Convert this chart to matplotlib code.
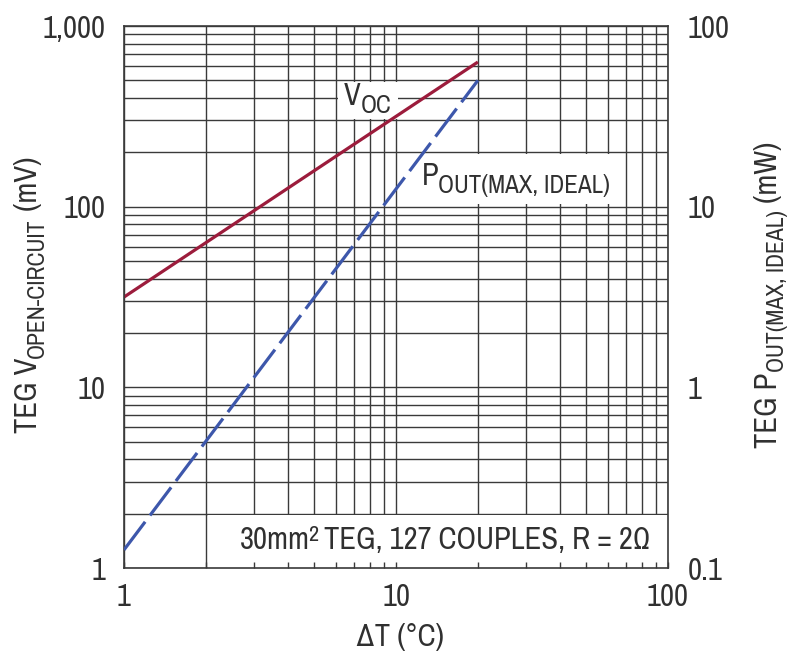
import matplotlib
matplotlib.use("Agg")
import matplotlib.pyplot as plt
from matplotlib.ticker import FixedLocator, FixedFormatter, LogLocator, NullFormatter
from matplotlib.patches import Rectangle

# ---- data -------------------------------------------------------------
delta_t = [1, 20]                 # temperature difference (°C)
v_oc_mv = [31.6, 632]             # open-circuit voltage (mV), left axis
p_out_mw = [0.126, 50]            # ideal max output power (mW), right axis

x_ticks = [1, 10, 100]
x_tick_labels = ["1", "10", "100"]
left_ticks = [1, 10, 100, 1000]
left_tick_labels = ["1", "10", "100", "1,000"]
right_ticks = [0.1, 1, 10, 100]
right_tick_labels = ["0.1", "1", "10", "100"]

# ---- style ------------------------------------------------------------
plt.rcParams["font.family"] = ["Archivo Narrow", "Roboto Condensed", "DejaVu Sans"]

GRID = "#3a3a3a"
TEXT = "#303030"
RED = "#9c1c3c"
BLUE = "#3d57ab"
TICK_FS = 22
MAIN_FS = 22      # in-plot labels
SUB_FS = 18       # their subscripts
AX_FS = 22        # axis titles
AX_SUB_FS = 17

W, H = 787, 655
fig = plt.figure(figsize=(W / 100, H / 100), dpi=100)
ax = fig.add_axes([124 / W, 87 / H, 544 / W, 542 / H])
ax.set_xscale("log")
ax.set_yscale("log")
ax.set_xlim(1, 100)
ax.set_ylim(1, 1000)

ax.xaxis.set_major_locator(FixedLocator(x_ticks))
ax.xaxis.set_major_formatter(FixedFormatter(x_tick_labels))
ax.xaxis.set_minor_locator(LogLocator(base=10, subs=range(2, 10)))
ax.xaxis.set_minor_formatter(NullFormatter())
ax.yaxis.set_major_locator(FixedLocator(left_ticks))
ax.yaxis.set_major_formatter(FixedFormatter(left_tick_labels))
ax.yaxis.set_minor_locator(LogLocator(base=10, subs=range(2, 10)))
ax.yaxis.set_minor_formatter(NullFormatter())

ax.set_axisbelow(True)
ax.grid(which="both", color=GRID, lw=1.0)
ax.tick_params(which="both", length=0, labelsize=TICK_FS, labelcolor=TEXT)
ax.tick_params(axis="x", pad=11)
ax.tick_params(axis="y", pad=13)
for s in ax.spines.values():
    s.set_color(GRID)
    s.set_linewidth(1.2)

# white label panels over the grid
panel = dict(facecolor="white", edgecolor="none", zorder=1)
ax.add_patch(Rectangle((2.03, 1.0), 100 - 2.03, 1.97 - 1.0, **panel))
ax.add_patch(Rectangle((6.1, 305), 10.15 - 6.1, 492 - 305, **panel))
ax.add_patch(Rectangle((11.3, 103), 64 - 11.3, 195 - 103, **panel))

ax.plot(delta_t, v_oc_mv, color=RED, lw=2.3, solid_capstyle="butt", zorder=2)

# right axis: output power
ax2 = ax.twinx()
ax2.set_yscale("log")
ax2.set_ylim(0.1, 100)
ax2.yaxis.set_major_locator(FixedLocator(right_ticks))
ax2.yaxis.set_major_formatter(FixedFormatter(right_tick_labels))
ax2.yaxis.set_minor_locator(LogLocator(base=10, subs=range(2, 10)))
ax2.yaxis.set_minor_formatter(NullFormatter())
ax2.tick_params(axis="y", which="both", length=0, labelsize=TICK_FS,
                labelcolor=TEXT, pad=14)
for s in ax2.spines.values():
    s.set_visible(False)

# short inward x ticks, visible inside the bottom panel
ax2.xaxis.set_visible(True)
ax2.tick_params(axis="x", which="both", direction="in", length=4, width=1.0,
                color=GRID, bottom=True, top=False, labelbottom=False, labeltop=False)

ax2.plot(delta_t, p_out_mw, color=BLUE, lw=2.3, dashes=(11, 2.5),
         dash_capstyle="butt", zorder=2)


# ---- text runs with sub/superscripts -----------------------------------
def run_h(x, y, pieces):
    """Horizontal run starting at data (x, y) on its baseline.

    pieces: (text, fontsize, rise in points, horizontal nudge in points)
    """
    s0, size0, _, _ = pieces[0]
    base = ax.text(x, y, s0, fontsize=size0, color=TEXT, ha="left",
                   va="baseline", zorder=3)
    prev = base
    for s, size, rise, nudge in pieces[1:]:
        prev = ax.annotate(s, xy=(1, 0), xycoords=(prev, base), xytext=(nudge, rise),
                           textcoords="offset points", fontsize=size, color=TEXT,
                           ha="left", va="bottom", zorder=3, annotation_clip=False)
    return base


def run_v(x_px, y_px, pieces):
    """Vertical run (reading upward) centred on a figure pixel position."""
    s0, size0, _ = pieces[0]
    base = ax.text(x_px / W, 1 - y_px / H, s0, transform=fig.transFigure,
                   rotation=90, fontsize=size0, color=TEXT, ha="center",
                   va="bottom", clip_on=False)
    arts = [base]
    prev = base
    for s, size, rise in pieces[1:]:
        prev = ax.annotate(s, xy=(1, 1), xycoords=(base, prev), xytext=(-rise, 0),
                           textcoords="offset points", rotation=90, fontsize=size,
                           color=TEXT, ha="right", va="bottom", annotation_clip=False)
        arts.append(prev)
    return base, arts, y_px


run_h(6.45, 365, [("V", MAIN_FS, 0, 0), ("OC", SUB_FS, -5, 0)])
run_h(12.4, 132, [("P", MAIN_FS, 0, 0), ("OUT(MAX, IDEAL)", SUB_FS, -5, 0)])
run_h(2.67, 1.275, [("30mm", MAIN_FS, 0, 0), ("2", 16, 6.4, -1.5),
                    (" TEG, 127 COUPLES, R = 2Ω", MAIN_FS, 0, -0.5)])

left_title = run_v(28, 295, [("TEG V", AX_FS, 0), ("OPEN-CIRCUIT", AX_SUB_FS, -4),
                              (" (mV)", AX_FS, 0)])
right_title = run_v(768, 295, [("TEG P", AX_FS, 0), ("OUT(MAX, IDEAL)", AX_SUB_FS, -4),
                                (" (mW)", AX_FS, 0)])

fig.text(400 / W, 1 - 637 / H, "ΔT (°C)", ha="center", va="center",
         fontsize=AX_FS, color=TEXT)

# centre the vertical titles on their target height
fig.canvas.draw()
renderer = fig.canvas.get_renderer()
for base, arts, y_px in (left_title, right_title):
    ext = [a.get_window_extent(renderer) for a in arts]
    y0 = min(e.y0 for e in ext)
    y1 = max(e.y1 for e in ext)
    centre = (y0 + y1) / 2
    target = H - y_px
    bx, by = base.get_position()
    base.set_position((bx, by + (target - centre) / H))

fig.savefig("out.png", dpi=100, facecolor="white")
